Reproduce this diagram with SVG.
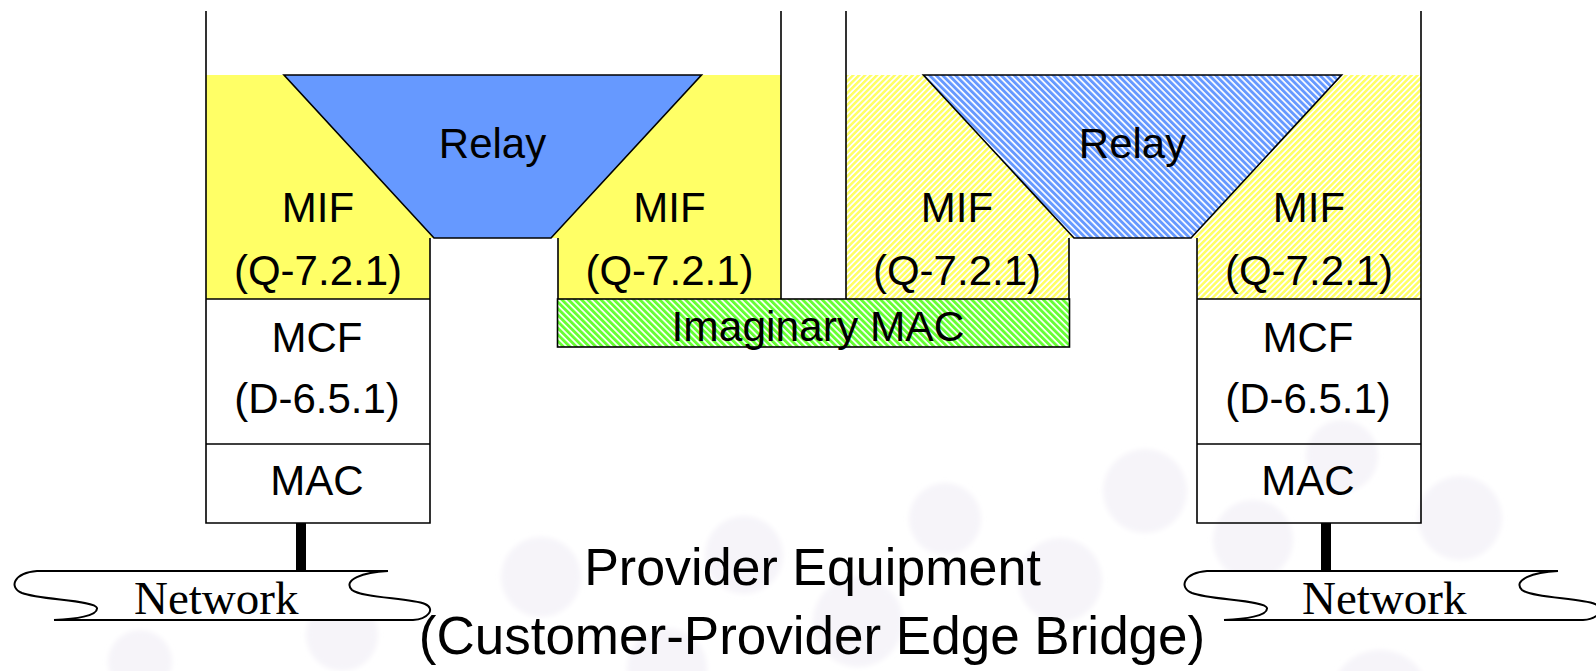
<svg xmlns="http://www.w3.org/2000/svg" width="1596" height="671" viewBox="0 0 1596 671">
<style>
.bg{fill:#f6f4f9}
.ln{fill:none;stroke:#000;stroke-width:1.6}
.lbl{font-family:"Liberation Sans",Arial,sans-serif;font-size:42px;fill:#000;text-anchor:middle}
.net{font-family:"Liberation Serif","Times New Roman",serif;font-size:47px;fill:#000}
.cap{font-family:"Liberation Sans",Arial,sans-serif;fill:#000;text-anchor:middle}
.cloud{fill:#fff;stroke:#000;stroke-width:2}
.bar{stroke:#000;stroke-width:10}
</style>
<defs>
<filter id="soft" x="-20%" y="-20%" width="140%" height="140%"><feGaussianBlur stdDeviation="2.5"/></filter>
<pattern id="yh" patternUnits="userSpaceOnUse" width="4.2" height="10" patternTransform="rotate(45)">
<rect width="4.2" height="10" fill="#fff"/><rect width="2.5" height="10" fill="#ffff66"/>
</pattern>
<pattern id="bh" patternUnits="userSpaceOnUse" width="4.6" height="10" patternTransform="rotate(-45)">
<rect width="4.6" height="10" fill="#fff"/><rect width="2.9" height="10" fill="#6699ff"/>
</pattern>
<pattern id="gh" patternUnits="userSpaceOnUse" width="4.6" height="10" patternTransform="rotate(-45)">
<rect width="4.6" height="10" fill="#fff"/><rect width="2.9" height="10" fill="#66ff33"/>
</pattern>
</defs>
<rect width="1596" height="671" fill="#fff"/>
<g id="background" filter="url(#soft)">
<circle class="bg" cx="140" cy="662" r="32"/>
<circle class="bg" cx="342" cy="635" r="36"/>
<circle class="bg" cx="541" cy="577" r="40"/>
<circle class="bg" cx="667" cy="668" r="40"/>
<circle class="bg" cx="744" cy="555" r="39"/>
<circle class="bg" cx="858" cy="622" r="45"/>
<circle class="bg" cx="945" cy="519" r="36"/>
<circle class="bg" cx="1060" cy="580" r="42"/>
<circle class="bg" cx="1145" cy="491" r="42"/>
<circle class="bg" cx="1253" cy="540" r="40"/>
<circle class="bg" cx="1342" cy="456" r="36"/>
<circle class="bg" cx="1460" cy="518" r="42"/>
<circle class="bg" cx="1380" cy="700" r="50"/>
</g>
<g id="left-bridge">
<rect x="206" y="75" width="575" height="224" fill="#ffff66"/>
<rect x="430" y="238" width="128" height="61" fill="#fff"/>
<polygon points="284,75 701.5,75 551,238 434,238" fill="#6699ff" stroke="#000" stroke-width="1.6"/>
<path class="ln" d="M206,11 V523 H430 V238 M781,11 V299 M558,238 V299 M206,299 H430 M206,444 H430"/>
<text class="lbl" x="492.5" y="158">Relay</text>
<text class="lbl" x="318" y="222">MIF</text>
<text class="lbl" x="318" y="285">(Q-7.2.1)</text>
<text class="lbl" x="669.5" y="222">MIF</text>
<text class="lbl" x="669.5" y="285">(Q-7.2.1)</text>
<text class="lbl" x="317" y="352">MCF</text>
<text class="lbl" x="317" y="413">(D-6.5.1)</text>
<text class="lbl" x="317" y="495">MAC</text>
</g>
<g id="right-bridge">
<rect x="846" y="75" width="575" height="224" fill="url(#yh)"/>
<rect x="1069" y="238" width="128" height="61" fill="#fff"/>
<polygon points="923.4,75 1341.6,75 1191,238 1074,238" fill="url(#bh)" stroke="#000" stroke-width="1.6"/>
<path class="ln" d="M846,11 V299 M1069,238 V299 M1197,238 V523 H1421 V11 M1197,299 H1421 M1197,444 H1421"/>
<text class="lbl" x="1132.5" y="158">Relay</text>
<text class="lbl" x="957" y="222">MIF</text>
<text class="lbl" x="957" y="285">(Q-7.2.1)</text>
<text class="lbl" x="1309" y="222">MIF</text>
<text class="lbl" x="1309" y="285">(Q-7.2.1)</text>
<text class="lbl" x="1308" y="352">MCF</text>
<text class="lbl" x="1308" y="413">(D-6.5.1)</text>
<text class="lbl" x="1308" y="495">MAC</text>
</g>
<g id="imaginary-mac">
<rect x="557.5" y="299" width="512" height="48" fill="url(#gh)" stroke="#000" stroke-width="1.6"/>
<text class="lbl" x="818" y="341" style="font-size:42.5px">Imaginary MAC</text>
</g>
<g id="connectors">
<line class="bar" x1="301" y1="523" x2="301" y2="572"/>
<line class="bar" x1="1326" y1="523" x2="1326" y2="572"/>
</g>
<g id="network-left">
<path class="cloud" d="M37,571 H388 C363,572 342,580 352,590 C362,598 410,598 425,604 C436,609 428,619 413,620 H54 C75,619 98,616 97,608 C95,600 40,600 22,593 C8,587 14,573 37,571 Z"/>
<text class="net" x="134" y="614">Network</text>
</g>
<g id="network-right">
<path class="cloud" transform="translate(1170,0)" d="M37,571 H388 C363,572 342,580 352,590 C362,598 410,598 425,604 C436,609 428,619 413,620 H54 C75,619 98,616 97,608 C95,600 40,600 22,593 C8,587 14,573 37,571 Z"/>
<text class="net" x="1302" y="614">Network</text>
</g>
<g id="caption">
<text class="cap" x="812.5" y="585" style="font-size:52px">Provider Equipment</text>
<text class="cap" x="812" y="654" style="font-size:53px">(Customer-Provider Edge Bridge)</text>
</g>
</svg>
